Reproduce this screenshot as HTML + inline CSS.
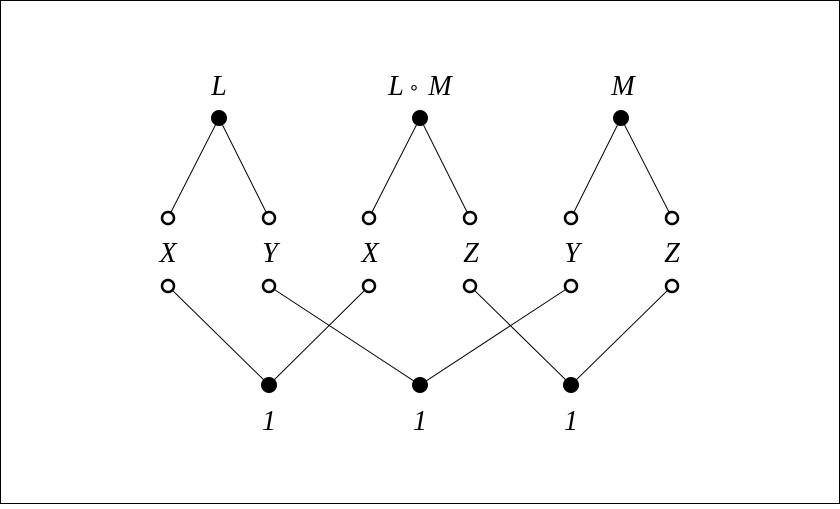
<!DOCTYPE html>
<html><head><style>body{margin:0;background:#fff} text{font-family:"Liberation Serif",serif;font-style:italic;font-size:28px}</style></head><body>
<svg width="840" height="504" viewBox="0 0 840 504" xmlns="http://www.w3.org/2000/svg">
<rect x="0.5" y="0.5" width="839" height="503" fill="#fff" stroke="#000" stroke-width="1"/>
<g stroke="#000" stroke-width="1" fill="none">
<line x1="219" y1="118" x2="168" y2="218"/><line x1="219" y1="118" x2="269" y2="218"/>
<line x1="420" y1="118" x2="369" y2="218"/><line x1="420" y1="118" x2="470" y2="218"/>
<line x1="621" y1="118" x2="571" y2="218"/><line x1="621" y1="118" x2="672" y2="218"/>
<line x1="168" y1="286" x2="269" y2="385"/><line x1="369" y1="286" x2="269" y2="385"/>
<line x1="269" y1="286" x2="420" y2="385"/><line x1="571" y1="286" x2="420" y2="385"/>
<line x1="470" y1="286" x2="571" y2="385"/><line x1="672" y1="286" x2="571" y2="385"/>
</g>
<g fill="#000">
<circle cx="219" cy="118" r="8"/><circle cx="420" cy="118" r="8"/><circle cx="621" cy="118" r="8"/>
<circle cx="269" cy="385" r="8"/><circle cx="420" cy="385" r="8"/><circle cx="571" cy="385" r="8"/>
</g>
<g fill="#fff" stroke="#000" stroke-width="2.5">
<circle cx="168" cy="218" r="6"/><circle cx="269" cy="218" r="6"/><circle cx="369" cy="218" r="6"/>
<circle cx="470" cy="218" r="6"/><circle cx="571" cy="218" r="6"/><circle cx="672" cy="218" r="6"/>
<circle cx="168" cy="286" r="6"/><circle cx="269" cy="286" r="6"/><circle cx="369" cy="286" r="6"/>
<circle cx="470" cy="286" r="6"/><circle cx="571" cy="286" r="6"/><circle cx="672" cy="286" r="6"/>
</g>
<g text-anchor="middle" fill="#000">
<text x="219" y="95">L</text>
<text x="396" y="95">L</text>
<text x="414" y="93" style="font-style:normal;font-size:18px">∘</text>
<text x="440" y="95">M</text>
<text x="623" y="95">M</text>
<text x="168" y="262">X</text><text x="270" y="262">Y</text><text x="370" y="262">X</text>
<text x="471" y="262">Z</text><text x="572" y="262">Y</text><text x="672" y="262">Z</text>
<text x="269" y="430">1</text><text x="420" y="430">1</text><text x="571" y="430">1</text>
</g>
</svg>
</body></html>
